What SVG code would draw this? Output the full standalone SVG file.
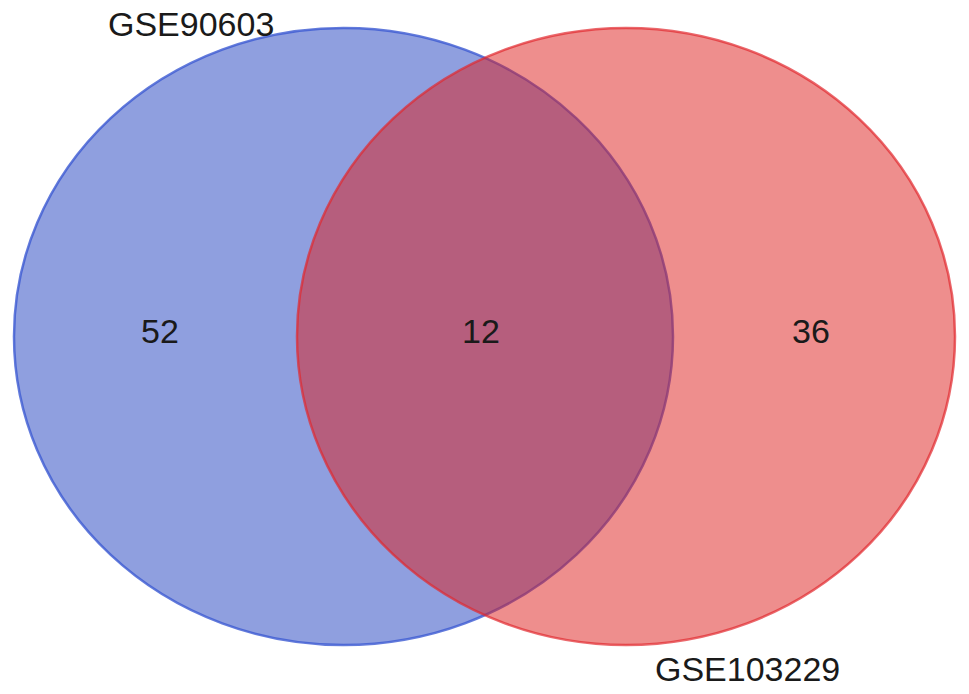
<svg xmlns="http://www.w3.org/2000/svg" width="969" height="694" viewBox="0 0 969 694">
<style>
text{font-family:"Liberation Sans",Arial,sans-serif;fill:#1a1a1a}
.lbl{font-size:34px}
.num{font-size:34px;text-anchor:middle}
</style>
<rect width="969" height="694" fill="#ffffff"/>
<g id="set-GSE90603">
<ellipse cx="343.5" cy="336.5" rx="329.5" ry="308.5" fill="rgb(31,63,191)" fill-opacity="0.5" stroke="rgb(60,90,210)" stroke-opacity="0.8" stroke-width="2.5"/>
</g>
<g id="set-GSE103229">
<ellipse cx="626" cy="336.5" rx="329" ry="308.5" fill="rgb(222,29,28)" fill-opacity="0.5" stroke="rgb(225,40,45)" stroke-opacity="0.7" stroke-width="2.5"/>
</g>
<g id="labels">
<text class="lbl" x="108" y="36">GSE90603</text>
<text class="lbl" x="655" y="681">GSE103229</text>
<text class="num" x="160" y="343">52</text>
<text class="num" x="481" y="343">12</text>
<text class="num" x="811" y="343">36</text>
</g>
</svg>
